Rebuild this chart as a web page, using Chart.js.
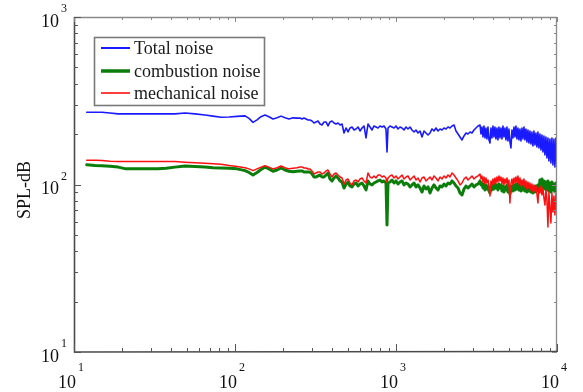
<!DOCTYPE html>
<html>
<head>
<meta charset="utf-8">
<script src="https://cdn.jsdelivr.net/npm/chart.js@4.4.1/dist/chart.umd.min.js"></script>
<style>
  html, body { margin: 0; padding: 0; background: #ffffff; }
  #wrap { width: 583px; height: 392px; }
</style>
</head>
<body>
<div id="wrap"><canvas id="spl" width="583" height="392"></canvas></div>
<script>
// Frequency axis (Hz)
const frequencyHz = [
  12, 13.5, 14.9, 16.7, 18.8, 21.0, 23.6, 26.4, 29.7, 33.2, 37.3, 42.4, 48.9, 56.4, 65.1, 73.0, 81.9, 91.8,
  102.9, 115.4, 122.2, 129.4, 137.0, 145.0, 153.6, 162.6, 172.2, 182.4, 193.1, 204.5, 216.5, 229.2, 242.7,
  253.4, 260.8, 268.3, 276.1, 284.1, 292.4, 300.8, 309.5, 318.5, 327.8, 337.3, 347.1, 357.2, 367.5, 378.2,
  389.2, 400.5, 412.1, 424.1, 436.4, 449.1, 462.1, 475.5, 489.3, 503.5, 518.1, 533.2, 548.6, 564.5, 580.8,
  597.7, 615.1, 632.9, 651.3, 670.1, 689.6, 709.6, 730.2, 751.3, 773.1, 795.5, 818.6, 842.4, 866.8, 879.3,
  891.9, 917.8, 944.5, 971.8, 1000, 1029, 1059, 1090, 1121, 1154, 1187, 1222, 1257, 1294, 1331, 1370, 1410,
  1451, 1493, 1536, 1581, 1627, 1674, 1722, 1772, 1824, 1877, 1931, 1987, 2045, 2104, 2165, 2228, 2293,
  2359, 2428, 2498, 2570, 2645, 2722, 2801, 2882, 2965, 3051, 3140, 3231,
  3324, 3372, 3420, 3469, 3519, 3570, 3621, 3673, 3726, 3780, 3834, 3889, 3945, 4002, 4060, 4118, 4177,
  4237, 4298, 4360, 4423, 4487, 4552, 4617, 4684, 4751, 4819, 4889, 4959, 5031, 5103, 5176, 5251, 5327,
  5403, 5481, 5560, 5640, 5721, 5803, 5887, 5972, 6058, 6145, 6234, 6323, 6414, 6507, 6600, 6695, 6792,
  6890, 6989, 7089, 7191, 7295, 7400, 7506, 7614, 7724, 7835, 7948, 8062, 8178, 8296, 8415, 8536, 8659,
  8784, 8910, 9039, 9169, 9301, 9434, 9570, 9708, 9848, 9990
];

// Total noise
const totalNoise = [
  270, 270, 270, 267, 264, 264, 264, 264, 264, 264, 264, 264, 267, 264, 260, 256, 252, 253, 255, 257, 248,
  235, 243, 254, 260, 254, 246, 250, 256, 250, 246, 250, 249,
  249.6, 246.2, 249.6, 246.2, 242.8, 242.8, 239.5, 233.0, 236.2, 239.5, 229.8, 226.7, 236.2, 236.2, 223.6,
  236.2, 239.5, 233.0, 229.8, 233.0, 226.7, 229.8,
  203.1, 217.5, 205.9, 217.5, 220.5, 211.6, 214.6, 220.5, 208.7, 217.5, 223.6, 189.6, 229.8, 220.5, 211.6,
  223.6, 220.5, 217.5, 223.6, 220.5, 223.6, 214.6,
  156.4,
  217.5, 223.6, 220.5, 217.5, 223.6, 214.6, 220.5, 217.5, 211.6, 220.5, 214.6, 220.5, 211.6, 205.9, 211.6,
  203.1, 208.7, 192.2, 208.7, 203.1, 197.6, 203.1, 214.6, 208.7, 217.5, 208.7, 214.6, 211.6, 217.5, 214.6,
  220.5, 217.5, 223.6, 226.7, 208.7, 200.3, 192.2, 184.5, 194.9, 203.1, 200.3, 205.9, 203.1, 211.6, 217.5,
  223.6,
  226.7, 200.3, 220.5, 192.2, 223.6, 189.6, 217.5, 187.0, 220.5, 184.5,
  177.0, 217.5, 189.6, 223.6, 192.2, 220.5, 187.0, 217.5, 184.5, 220.5,
  189.6, 217.5, 187.0, 223.6, 192.2, 217.5, 184.5, 220.5, 181.9, 214.6,
  179.5, 165.3, 211.6, 189.6, 220.5, 192.2, 223.6, 187.0, 217.5, 184.5,
  214.6, 181.9, 217.5, 187.0, 220.5, 184.5, 214.6, 179.5, 211.6, 177.0,
  208.7, 174.6, 205.9, 169.9, 208.7, 172.2, 203.1, 167.5, 205.9, 165.3,
  200.3, 160.8, 197.6, 156.4, 194.9, 150.1, 192.2, 144.0, 189.6, 138.2,
  187.0, 134.5, 189.6, 130.8, 187.0, 127.3, 189.6, 129.0
];

// Combustion noise
const combustionNoise = [
  131, 130, 129.5, 128.5, 127, 124, 124, 124, 124, 124, 125, 127, 129, 128, 127, 126, 125.5, 125, 124, 121,
  118, 114, 118, 123, 127, 124, 120, 122, 125.5, 122, 120, 119, 120,
  120.5, 120.5, 118.8, 118.8, 118.8, 118.8, 115.6, 110.9, 110.9, 112.5, 114.0, 110.9, 110.9, 114.0, 117.2,
  107.9, 105.0, 109.4, 112.5, 109.4, 105.0, 103.5,
  95.3, 100.7, 103.5, 98.0, 96.7, 100.7, 102.1, 98.0, 100.7, 102.1, 98.0, 92.8, 105.0, 100.7, 99.4, 102.1,
  103.5, 105.0, 106.4, 103.5, 105.0, 102.1,
  57.3,
  102.1, 103.5, 106.4, 102.1, 105.0, 100.7, 103.5, 105.0, 99.4, 102.1, 100.7, 96.7, 99.4, 102.1, 96.7,
  99.4, 95.3, 90.2, 98.0, 94.0, 96.7, 89.0, 95.3, 99.4, 95.3, 92.8, 98.0, 96.7, 100.7, 98.0, 102.1, 100.7,
  105.0, 102.1, 98.0, 95.3, 89.0, 86.6, 94.0, 98.0, 95.3, 98.0, 100.7, 96.7, 99.4, 100.7,
  105.0, 99.4, 102.1, 95.3, 100.7, 92.8, 99.4, 94.0, 98.0, 91.5,
  89.0, 96.7, 92.8, 99.4, 94.0, 100.7, 95.3, 99.4, 92.8, 100.7,
  95.3, 99.4, 91.5, 98.0, 90.2, 96.7, 92.8, 99.4, 90.2, 98.0,
  87.8, 94.0, 98.0, 91.5, 99.4, 92.8, 100.7, 94.0, 102.1, 92.8,
  99.4, 91.5, 98.0, 92.8, 99.4, 91.5, 98.0, 90.2, 96.7, 91.5,
  98.0, 90.2, 96.7, 89.0, 96.7, 90.2, 98.0, 91.5, 99.4, 92.8,
  106.4, 98.0, 107.9, 95.3, 105.0, 94.0, 103.5, 92.8, 105.0, 91.5,
  102.1, 90.2, 103.5, 92.8, 100.7, 90.2, 102.1, 91.5
];

// Mechanical noise
const mechanicalNoise = [
  139.5, 139.5, 139, 137.5, 137, 137, 137, 137, 137, 137, 137, 137, 136, 135, 134, 133, 132, 130, 128, 126,
  124, 121, 124, 127, 129.5, 127, 124, 126, 129, 126, 124, 125, 126,
  127.3, 127.3, 125.5, 125.5, 123.8, 123.8, 120.5, 115.6, 117.2, 118.8, 118.8, 115.6, 117.2, 120.5, 122.1,
  115.6, 110.9, 115.6, 117.2, 114.0, 110.9, 109.4,
  100.7, 106.4, 107.9, 102.1, 99.4, 105.0, 106.4, 103.5, 107.9, 109.4, 105.0, 102.1, 117.2, 110.9, 109.4,
  112.5, 109.4, 114.0, 114.0, 110.9, 112.5, 109.4,
  103.5,
  109.4, 112.5, 114.0, 109.4, 112.5, 107.9, 110.9, 114.0, 107.9, 110.9, 112.5, 106.4, 109.4, 112.5, 106.4,
  109.4, 103.5, 109.4, 110.9, 105.0, 107.9, 110.9, 106.4, 112.5, 109.4, 105.0, 110.9, 107.9, 112.5, 109.4,
  114.0, 110.9, 117.2, 114.0, 109.4, 105.0, 99.4, 102.1, 107.9, 110.9, 106.4, 109.4, 112.5, 107.9, 110.9,
  112.5,
  115.6, 107.9, 112.5, 103.5, 110.9, 100.7, 109.4, 102.1, 106.4, 98.0,
  85.4, 105.0, 99.4, 107.9, 100.7, 109.4, 102.1, 110.9, 103.5, 112.5,
  105.0, 110.9, 100.7, 109.4, 99.4, 107.9, 102.1, 109.4, 98.0, 106.4,
  77.6, 100.7, 107.9, 99.4, 109.4, 102.1, 110.9, 103.5, 112.5, 100.7,
  109.4, 98.0, 106.4, 99.4, 107.9, 96.7, 105.0, 94.0, 103.5, 95.3,
  102.1, 92.8, 100.7, 90.2, 99.4, 91.5, 98.0, 87.8, 77.6, 95.3,
  89.0, 98.0, 86.6, 95.3, 83.1, 75.4, 92.8, 80.8, 55.8, 90.2,
  72.4, 58.9, 89.0, 68.5, 85.4, 65.8, 87.8, 67.6
];

// Axis decades (labels are drawn as 10 with the exponent raised)
const xDecadeExponents = [1, 2, 3, 4];
const yDecadeExponents = [1, 2, 3];
const yAxisTitle = 'SPL-dB';

const serif = '"Liberation Serif", "Times New Roman", serif';

function points(values) {
  return frequencyHz.map((f, i) => ({ x: f, y: values[i] }));
}

// White page behind the chart
const background = {
  id: 'background',
  beforeDraw(chart) {
    const ctx = chart.ctx;
    ctx.save();
    ctx.fillStyle = '#ffffff';
    ctx.fillRect(0, 0, chart.width, chart.height);
    ctx.restore();
  }
};

// Box frame with inward log ticks and power-of-ten labels
const logFrame = {
  id: 'logFrame',
  afterDatasetsDraw(chart) {
    const { ctx, chartArea: a } = chart;
    const xs = chart.scales.x, ys = chart.scales.y;
    ctx.save();

    // frame
    ctx.lineWidth = 1.3;
    ctx.strokeStyle = '#8a8a8a';
    ctx.beginPath();
    ctx.moveTo(a.left, a.top + 0.5); ctx.lineTo(a.right, a.top + 0.5);
    ctx.moveTo(a.right - 0.5, a.top); ctx.lineTo(a.right - 0.5, a.bottom);
    ctx.stroke();
    ctx.lineWidth = 1.6;
    ctx.strokeStyle = '#4a4a4a';
    ctx.beginPath();
    ctx.moveTo(a.left + 0.5, a.top); ctx.lineTo(a.left + 0.5, a.bottom);
    ctx.lineTo(a.right, a.bottom - 0.5);
    ctx.stroke();

    // x ticks
    ctx.lineWidth = 1;
    const xMin = xDecadeExponents[0], xMax = xDecadeExponents[xDecadeExponents.length - 1];
    for (let e = xMin; e <= xMax; e++) {
      for (let m = 1; m <= 9; m++) {
        const v = m * Math.pow(10, e);
        if (v > Math.pow(10, xMax)) break;
        const px = Math.round(xs.getPixelForValue(v)) + 0.5;
        const major = m === 1;
        ctx.strokeStyle = '#555555';
        ctx.beginPath();
        ctx.moveTo(px, a.bottom); ctx.lineTo(px, a.bottom - (major ? 8 : 4));
        ctx.stroke();
        ctx.strokeStyle = '#888888';
        ctx.beginPath();
        ctx.moveTo(px, a.top); ctx.lineTo(px, a.top + (major ? 5 : 3));
        ctx.stroke();
      }
    }
    // y ticks
    const yMin = yDecadeExponents[0], yMax = yDecadeExponents[yDecadeExponents.length - 1];
    for (let e = yMin; e <= yMax; e++) {
      for (let m = 1; m <= 9; m++) {
        const v = m * Math.pow(10, e);
        if (v > Math.pow(10, yMax)) break;
        const py = Math.round(ys.getPixelForValue(v)) + 0.5;
        const major = m === 1;
        ctx.strokeStyle = '#555555';
        ctx.beginPath();
        ctx.moveTo(a.left, py); ctx.lineTo(a.left + (major ? 7 : 4), py);
        ctx.stroke();
        ctx.strokeStyle = '#888888';
        ctx.beginPath();
        ctx.moveTo(a.right, py); ctx.lineTo(a.right - (major ? 5 : 3), py);
        ctx.stroke();
      }
    }

    // tick labels
    ctx.fillStyle = '#111111';
    ctx.textBaseline = 'middle';
    const big = '18px ' + serif, small = '12px ' + serif;
    xDecadeExponents.forEach(e => {
      const px = xs.getPixelForValue(Math.pow(10, e));
      ctx.font = big;
      const wBase = ctx.measureText('10').width;
      ctx.font = small;
      const wExp = ctx.measureText(String(e)).width;
      const left = px - (wBase + 2 + wExp) / 2 - 3;
      ctx.font = big;
      ctx.textAlign = 'left';
      ctx.fillText('10', left, a.bottom + 31);
      ctx.font = small;
      ctx.fillText(String(e), left + wBase + 2, a.bottom + 16);
    });
    yDecadeExponents.forEach(e => {
      const py = ys.getPixelForValue(Math.pow(10, e));
      ctx.font = big;
      ctx.textAlign = 'right';
      ctx.fillText('10', a.left - 15, py + 5);
      ctx.font = small;
      ctx.textAlign = 'left';
      ctx.fillText(String(e), a.left - 13, py - 8);
    });

    // y title
    ctx.save();
    ctx.translate(25, 190);
    ctx.rotate(-Math.PI / 2);
    ctx.font = '18px ' + serif;
    ctx.textAlign = 'center';
    ctx.textBaseline = 'middle';
    ctx.fillStyle = '#111111';
    ctx.fillText(yAxisTitle, 0, 0);
    ctx.restore();

    ctx.restore();
  }
};

// Boxed legend inside the plot, upper left
const boxLegend = {
  id: 'boxLegend',
  afterDraw(chart) {
    const ctx = chart.ctx;
    ctx.save();
    const bx = 94.5, by = 37.5, bw = 170, bh = 68;
    ctx.fillStyle = '#ffffff';
    ctx.fillRect(bx, by, bw, bh);
    ctx.lineWidth = 1.6;
    ctx.strokeStyle = '#7a7a7a';
    ctx.strokeRect(bx, by, bw, bh);
    const rows = [48, 71, 93];
    chart.data.datasets.forEach((ds, i) => {
      const y = rows[i];
      ctx.strokeStyle = ds.borderColor;
      ctx.lineWidth = ds.legendWidth;
      ctx.beginPath();
      ctx.moveTo(101, y); ctx.lineTo(130, y);
      ctx.stroke();
      ctx.fillStyle = '#1a1a1a';
      ctx.font = '18px ' + serif;
      ctx.textAlign = 'left';
      ctx.textBaseline = 'middle';
      ctx.fillText(ds.label, 134, y + 1);
    });
    ctx.restore();
  }
};

new Chart(document.getElementById('spl'), {
  type: 'line',
  data: {
    datasets: [
      { label: 'Total noise', data: points(totalNoise), borderColor: '#1a1aff', borderWidth: 1.6,
        legendWidth: 2, order: 0 },
      { label: 'combustion noise', data: points(combustionNoise), borderColor: '#0a7d0a', borderWidth: 3,
        legendWidth: 3.5, order: 2 },
      { label: 'mechanical noise', data: points(mechanicalNoise), borderColor: '#ff1010', borderWidth: 1.5,
        legendWidth: 1.6, order: 1 }
    ]
  },
  options: {
    responsive: false,
    devicePixelRatio: 1,
    animation: false,
    layout: { padding: { left: 74, top: 17, right: 26, bottom: 40 } },
    elements: {
      point: { radius: 0 },
      line: { tension: 0, borderJoinStyle: 'round', borderCapStyle: 'round' }
    },
    scales: {
      x: { type: 'logarithmic', min: 10, max: 10000, display: false },
      y: { type: 'logarithmic', min: 10, max: 1000, display: false }
    },
    plugins: { legend: { display: false }, tooltip: { enabled: false } }
  },
  plugins: [background, logFrame, boxLegend]
});
</script>
</body>
</html>
